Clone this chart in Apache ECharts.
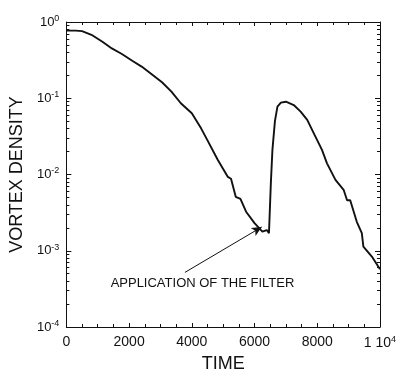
<!DOCTYPE html>
<html>
<head>
<meta charset="utf-8">
<script src="https://cdn.jsdelivr.net/npm/echarts@6/dist/echarts.min.js"></script>
<style>
html,body{margin:0;padding:0;background:#fff;}
#c{width:403px;height:382px;}
</style>
</head>
<body>
<div id="c"></div>
<script>
// ---- data ----
var times = [0, 300, 500, 800, 1150, 1450, 1770, 2100, 2400, 2700, 3050, 3350, 3650, 4000, 4300, 4500, 4830, 5150, 5250, 5400, 5550, 5730, 6000, 6250, 6390, 6460, 6520, 6570, 6650, 6730, 6840, 7000, 7250, 7470, 7680, 7890, 8150, 8310, 8580, 8840, 8950, 9050, 9260, 9420, 9470, 9740, 10000];
var density = [0.77, 0.77, 0.76, 0.68, 0.55, 0.45, 0.38, 0.31, 0.26, 0.21, 0.162, 0.122, 0.086, 0.0635, 0.040, 0.028, 0.0155, 0.0093, 0.0088, 0.0051, 0.0048, 0.00325, 0.0023, 0.00178, 0.00187, 0.0017, 0.0077, 0.021, 0.05, 0.0775, 0.0875, 0.090, 0.0815, 0.0667, 0.052, 0.0347, 0.021, 0.014, 0.0085, 0.0063, 0.0046, 0.0046, 0.0024, 0.0017, 0.00113, 0.00084, 0.00057];
var xTickLabels = ['0', '2000', '4000', '6000', '8000', '1 10{s|4}'];
var yDecades = [1e-4, 1e-3, 1e-2, 1e-1, 1];
var yDecadeLabels = ['10{s|-4}', '10{s|-3}', '10{s|-2}', '10{s|-1}', '10{s|0}'];
var arrowFrom = [3780, 0.00052];
var arrowTo = [6230, 0.00205];
var noteAt = [4340, 0.00037];
var noteText = 'APPLICATION OF THE FILTER';

var minorY = [];
for (var d = -4; d < 0; d++) {
  for (var m = 2; m <= 9; m++) minorY.push(+(m * Math.pow(10, d)).toPrecision(3));
}

var FONT = '"Liberation Sans", Arial, sans-serif';
var INK = '#111';

function xAxisDef(pos, labels) {
  return {
    type: 'value', position: pos, min: 0, max: 10000, interval: 2000,
    axisLine: {show: true, lineStyle: {color: INK, width: 1}},
    axisTick: {show: true, inside: true, length: 4, lineStyle: {color: INK}},
    minorTick: {show: true, splitNumber: 4, length: 3, lineStyle: {color: INK}},
    splitLine: {show: false}, minorSplitLine: {show: false},
    axisLabel: labels ? {
      show: true, margin: 8, color: INK, fontFamily: FONT, fontSize: 14,
      formatter: function (v) { return xTickLabels[Math.round(v / 2000)]; },
      rich: {s: {fontSize: 9, verticalAlign: 'top', padding: [0, 0, 8, 0], color: INK, fontFamily: FONT}}
    } : {show: false},
    name: labels ? 'TIME' : '', nameLocation: 'middle', nameGap: 24,
    nameTextStyle: {color: INK, fontFamily: FONT, fontSize: 18}
  };
}
function yAxisDef(pos, labels, minor) {
  return {
    type: 'log', logBase: 10, position: pos, min: 1e-4, max: 1,
    axisLine: {show: !minor, lineStyle: {color: INK, width: 1}},
    axisTick: {show: true, inside: true, length: minor ? 3 : 5, lineStyle: {color: INK},
               customValues: minor ? minorY : yDecades},
    splitLine: {show: false},
    axisLabel: labels ? {
      show: true, margin: 7, color: INK, fontFamily: FONT, fontSize: 13,
      customValues: yDecades,
      formatter: function (v) {
        var i = Math.round(Math.log10(v)) + 4;
        return yDecadeLabels[i];
      },
      rich: {s: {fontSize: 9, verticalAlign: 'top', padding: [0, 0, 7, 0], color: INK, fontFamily: FONT}}
    } : {show: false},
    name: labels ? 'VORTEX DENSITY' : '', nameLocation: 'middle', nameGap: 35,
    nameTextStyle: {color: INK, fontFamily: FONT, fontSize: 18}
  };
}

var chart = echarts.init(document.getElementById('c'), null, {renderer: 'canvas'});
chart.setOption({
  animation: false,
  backgroundColor: '#fff',
  grid: {left: 64, top: 22, right: 23, bottom: 55, containLabel: false},
  xAxis: [xAxisDef('bottom', true), xAxisDef('top', false)],
  yAxis: [yAxisDef('left', true, false), yAxisDef('left', false, true),
          yAxisDef('right', false, false), yAxisDef('right', false, true)],
  series: [{
    type: 'line', xAxisIndex: 0, yAxisIndex: 0,
    data: times.map(function (t, i) { return [t, density[i]]; }),
    showSymbol: false, symbol: 'none',
    lineStyle: {color: INK, width: 1.9},
    markLine: {
      silent: true, symbol: ['none', 'arrow'], symbolSize: [7, 10],
      lineStyle: {color: INK, width: 1, type: 'solid'},
      label: {show: false},
      data: [[{coord: arrowFrom}, {coord: arrowTo}]]
    },
    markPoint: {
      silent: true, symbol: 'circle', symbolSize: 0,
      label: {show: true, position: 'inside', formatter: noteText, color: INK, fontFamily: FONT, fontSize: 13},
      data: [{coord: noteAt}]
    }
  }]
});
</script>
</body>
</html>
